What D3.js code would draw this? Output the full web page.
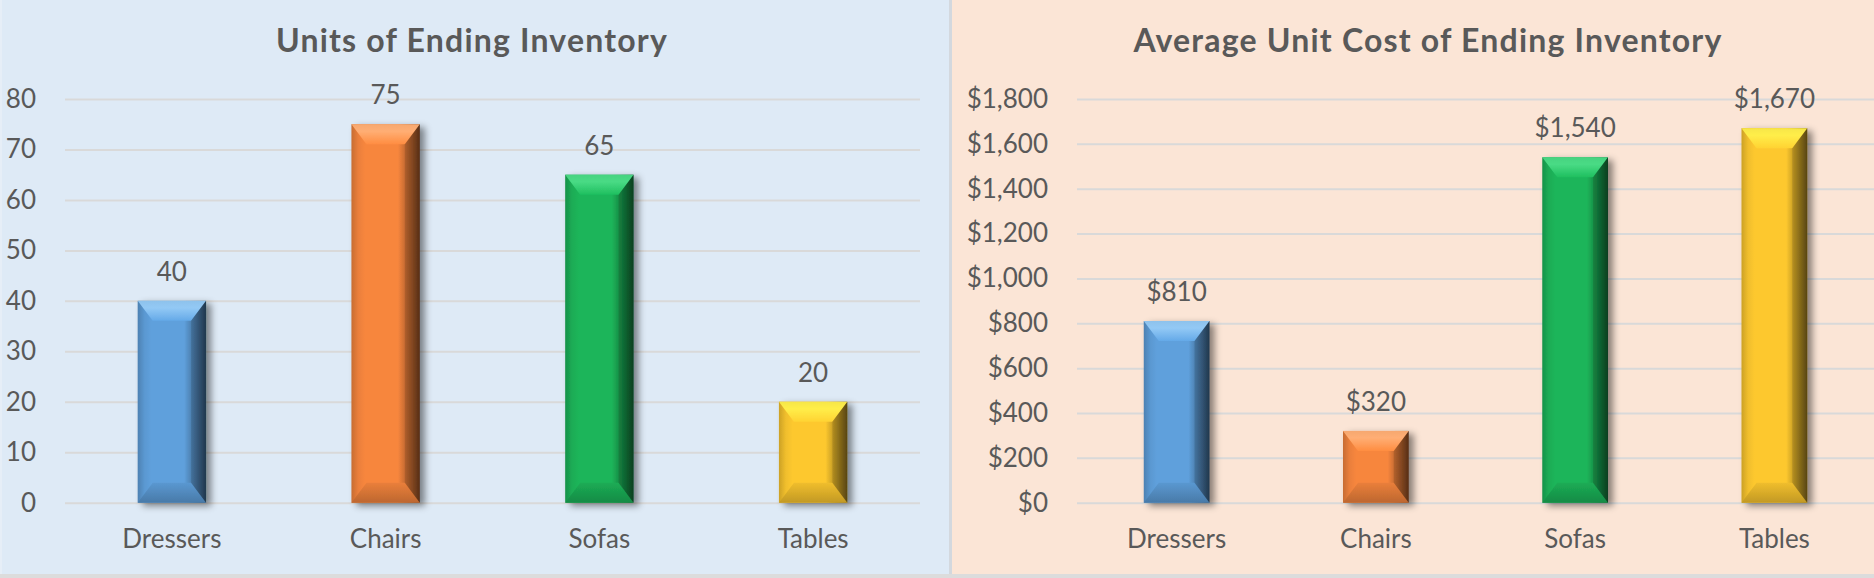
<!DOCTYPE html>
<html>
<head>
<meta charset="utf-8">
<script src="https://cdn.jsdelivr.net/npm/d3@7"></script>
<style>
  html, body { margin: 0; padding: 0; background: #ffffff; }
  svg { display: block; }
  text { font-family: Lato, "Open Sans", sans-serif; }
</style>
</head>
<body>
<script>
// ---------- data ----------
const categories = ["Dressers", "Chairs", "Sofas", "Tables"];
const unitsValues = [40, 75, 65, 20];
const costValues = [810, 320, 1540, 1670];
const unitsTicks = [0, 10, 20, 30, 40, 50, 60, 70, 80];
const costTicks = [0, 200, 400, 600, 800, 1000, 1200, 1400, 1600, 1800];
const unitsTitle = "Units of Ending Inventory";
const costTitle = "Average Unit Cost of Ending Inventory";

// ---------- styles ----------
const barColors = ["#5FA0DC", "#F7863E", "#1DB55A", "#FDC82F"];
const topColors = ["#93C9F5", "#FFAE74", "#49DB85", "#FFEE4A"];
const textColor = "#595959";
const gridColor = "#D9D9D9";
const labelSize = 26;

const W = 1874, H = 578;
const svg = d3.select("body").append("svg").attr("width", W).attr("height", H);
const defs = svg.append("defs");

// drop shadow
const f = defs.append("filter").attr("id", "shadow")
  .attr("x", "-20%").attr("y", "-10%").attr("width", "150%").attr("height", "130%");
f.append("feDropShadow").attr("dx", 5).attr("dy", 3).attr("stdDeviation", 3.5)
  .attr("flood-color", "#000").attr("flood-opacity", 0.45);

// gradients per colour
barColors.forEach((c, i) => {
  const base = d3.color(c);
  const g = defs.append("linearGradient").attr("id", "side" + i)
    .attr("x1", "0%").attr("x2", "100%").attr("y1", "0%").attr("y2", "0%");
  [[0, base.darker(0.6)], [0.1, base.darker(0.15)], [0.2, base], [0.68, base],
   [0.84, base.darker(1.0)], [1, base.darker(2.6)]].forEach(([o, col]) =>
    g.append("stop").attr("offset", o).attr("stop-color", col));
  const t = defs.append("linearGradient").attr("id", "top" + i)
    .attr("x1", "0%").attr("x2", "0%").attr("y1", "0%").attr("y2", "100%");
  [[0, d3.color(topColors[i]).darker(0.1)], [0.35, d3.color(topColors[i])], [1, base.brighter(0.15)]]
    .forEach(([o, col]) => t.append("stop").attr("offset", o).attr("stop-color", col));
  const b = defs.append("linearGradient").attr("id", "bot" + i)
    .attr("x1", "0%").attr("x2", "0%").attr("y1", "0%").attr("y2", "100%");
  [[0, base.darker(0.15)], [1, base.darker(0.75)]]
    .forEach(([o, col]) => b.append("stop").attr("offset", o).attr("stop-color", col));
});

// backgrounds
svg.append("rect").attr("x", 0).attr("y", 0).attr("width", 950).attr("height", H).attr("fill", "#DEEAF6");
svg.append("rect").attr("x", 0).attr("y", 0).attr("width", 2).attr("height", H).attr("fill", "#E6EEF7");
svg.append("rect").attr("x", 949).attr("y", 0).attr("width", 3).attr("height", H).attr("fill", "#D3D8DE");
svg.append("rect").attr("x", 952).attr("y", 0).attr("width", W - 952).attr("height", H).attr("fill", "#FBE5D6");
svg.append("rect").attr("x", 0).attr("y", 574).attr("width", W).attr("height", 4).attr("fill", "#DCDCDC");

function drawChart(opt) {
  const g = svg.append("g");
  const x = d3.scaleBand().domain(categories).range([opt.left, opt.right])
    .paddingInner(opt.pad).paddingOuter(opt.pad / 2);
  const y = d3.scaleLinear().domain([0, opt.ticks[opt.ticks.length - 1]]).range([502.7, 99]);

  // title
  g.append("text").attr("x", opt.titleX).attr("y", 52).attr("text-anchor", "middle")
    .attr("font-size", 32).attr("font-weight", 700).attr("letter-spacing", 1.2)
    .attr("fill", textColor).text(opt.title);

  // y axis + gridlines
  const ya = g.append("g").attr("transform", `translate(${opt.left},0)`)
    .call(d3.axisLeft(y).tickValues(opt.ticks).tickSize(-(opt.right - opt.left))
      .tickPadding(29).tickFormat(opt.tickFmt));
  ya.select(".domain").remove();
  ya.selectAll("line").attr("stroke", gridColor).attr("stroke-width", 2);
  ya.selectAll("text").attr("font-size", labelSize).attr("fill", textColor)
    .attr("font-family", "Lato, 'Open Sans', sans-serif");

  // x axis labels
  const xa = g.append("g").attr("transform", `translate(0,${y(0)})`)
    .call(d3.axisBottom(x).tickSize(0).tickPadding(27));
  xa.select(".domain").remove();
  xa.selectAll("text").attr("font-size", labelSize).attr("fill", textColor)
    .attr("font-family", "Lato, 'Open Sans', sans-serif");

  // bars
  const bw = x.bandwidth();
  const bars = g.selectAll(".bar").data(opt.values).enter().append("g")
    .attr("class", "bar").attr("filter", "url(#shadow)");
  bars.each(function (v, i) {
    const b = d3.select(this);
    const x0 = x(categories[i]), x1 = x0 + bw, y0 = y(v), y1 = y(0);
    const sx = 15, sy = 20;
    b.append("rect").attr("x", x0).attr("y", y0).attr("width", bw).attr("height", y1 - y0)
      .attr("fill", `url(#side${i})`);
    b.append("polygon").attr("points",
      [[x0, y0], [x1, y0], [x1 - sx, y0 + sy], [x0 + sx, y0 + sy]].map(p => p.join(",")).join(" "))
      .attr("fill", `url(#top${i})`);
    b.append("polygon").attr("points",
      [[x0 + sx, y1 - sy], [x1 - sx, y1 - sy], [x1, y1], [x0, y1]].map(p => p.join(",")).join(" "))
      .attr("fill", `url(#bot${i})`);
    // right facet darkening
    b.append("polygon").attr("points",
      [[x1, y0], [x1, y1], [x1 - sx, y1 - sy], [x1 - sx, y0 + sy]].map(p => p.join(",")).join(" "))
      .attr("fill", "#000").attr("opacity", 0.12);
  });

  // data labels
  g.selectAll(".lbl").data(opt.values).enter().append("text")
    .attr("x", (d, i) => x(categories[i]) + bw / 2)
    .attr("y", d => y(d) - 20)
    .attr("text-anchor", "middle").attr("font-size", labelSize).attr("fill", textColor)
    .text(d => opt.labelFmt(d));
}

drawChart({
  left: 65, right: 920, pad: 0.68, values: unitsValues, ticks: unitsTicks,
  tickFmt: d3.format("d"), labelFmt: d3.format("d"), title: unitsTitle, titleX: 472
});
drawChart({
  left: 1077, right: 1874, pad: 0.67, values: costValues, ticks: costTicks,
  tickFmt: d3.format("$,.0f"), labelFmt: d3.format("$,.0f"), title: costTitle, titleX: 1428
});
</script>
</body>
</html>
